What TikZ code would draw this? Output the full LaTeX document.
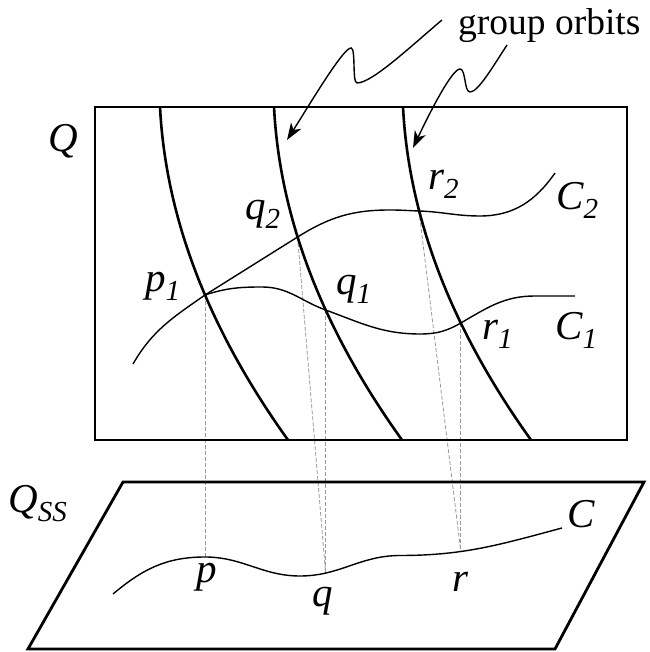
\documentclass[tikz,border=0pt]{standalone}
\usepackage{fontspec}
\setmainfont{Liberation Serif}
\usetikzlibrary{arrows.meta}

\newcommand{\lsub}[1]{\raisebox{-0.2em}{\fontsize{29}{29}\selectfont #1}}

\begin{document}
\begin{tikzpicture}[
    x=1pt, y=1pt,
    frame/.style={line width=2.8pt},
    orbit/.style={line width=2.6pt},
    curve/.style={line width=1.4pt},
    proj/.style={gray!80, line width=0.8pt, dash pattern=on 4pt off 2pt},
    pointer/.style={line width=1.4pt, -{Stealth[length=17pt, width=12pt, inset=5pt]}},
    lbl/.style={anchor=base west, inner sep=0pt, font=\fontsize{41}{41}\selectfont\itshape},
    note/.style={anchor=base west, inner sep=0pt, font=\fontsize{37.5}{37.5}\selectfont}
]
\useasboundingbox (0,0) rectangle (649,652);

% Points on the orbits and their images
\coordinate (p1) at (205,357);
\coordinate (q2) at (297.6,415);
\coordinate (q1) at (325.6,342);
\coordinate (r2) at (419,441);
\coordinate (r1) at (460.8,329);
\coordinate (p) at (205,95);
\coordinate (q) at (325.6,79);
\coordinate (r) at (460.8,100.5);

% Projections
\draw[proj] (p1) -- (p);
\draw[proj] (q2) -- (q);
\draw[proj] (q1) -- (q);
\draw[proj] (r2) -- (r);
\draw[proj] (r1) -- (r);

% Curves C1, C2 and C
\draw[curve] (133,288) to[out=60, in=215] (p1) to[out=18, in=180] (262,365)
  to[out=0, in=160] (q1) to[out=-20, in=180] (420,318) to[out=0, in=210] (r1)
  to[out=30, in=180] (535,356) -- (575,356);
\draw[curve] (p1) to[out=32, in=212] (q2) to[out=32, in=180] (390,442)
  to[out=0, in=178] (r2) to[out=-2, in=180] (480,436) to[out=0, in=235] (555,479);
\draw[curve] (113,58) to[out=40, in=180] (p) to[out=0, in=180] (300,76)
  to[out=0, in=180] (400,96.5) to[out=0, in=195] (562,124);

% Group orbits
\foreach \s in {0,114,243}
  \draw[orbit] (160+\s,545) .. controls (165.7+\s,434) and (208.4+\s,323) .. (288+\s,212);

% Q and Q_SS
\draw[frame] (95,212) rectangle (627,545);
\draw[frame] (28,3) -- (123,170) -- (644,170) -- (555,3) -- cycle;

% Pointers
\coordinate (a1) at (442,632);
\coordinate (b1) at (287,512);
\coordinate (a2) at (507,607);
\coordinate (b2) at (413,504);
\draw[pointer] (a1) .. controls (410,605) and (372,569) .. (357,569)
  .. controls (352,569) and (356,604) .. (351,604)
  .. controls (343,604) and (310,548) .. (b1);
\draw[pointer] (a2) .. controls (492,584) and (478,560) .. (470,560)
  .. controls (464,560) and (466,583) .. (460,583)
  .. controls (452,583) and (430,540) .. (b2);

% Labels
\node[note] (orbits) at (458,617) {group orbits};
\node[lbl] (lQ) at (48,500) {Q};
\node[lbl] (lQss) at (8,139) {Q\lsub{SS}};
\node[lbl] (lp1) at (145,360) {p\lsub{1}};
\node[lbl] (lq2) at (245,432) {q\lsub{2}};
\node[lbl] (lq1) at (336,357) {q\lsub{1}};
\node[lbl] (lr2) at (428,462) {r\lsub{2}};
\node[lbl] (lr1) at (482,312) {r\lsub{1}};
\node[lbl] (lC2) at (556,442) {C\lsub{2}};
\node[lbl] (lC1) at (555,312) {C\lsub{1}};
\node[lbl] (lC) at (567,124) {C};
\node[lbl] (lp) at (196,69) {p};
\node[lbl] (lq) at (312,45) {q};
\node[lbl] (lr) at (452,60) {r};

\end{tikzpicture}
\end{document}
